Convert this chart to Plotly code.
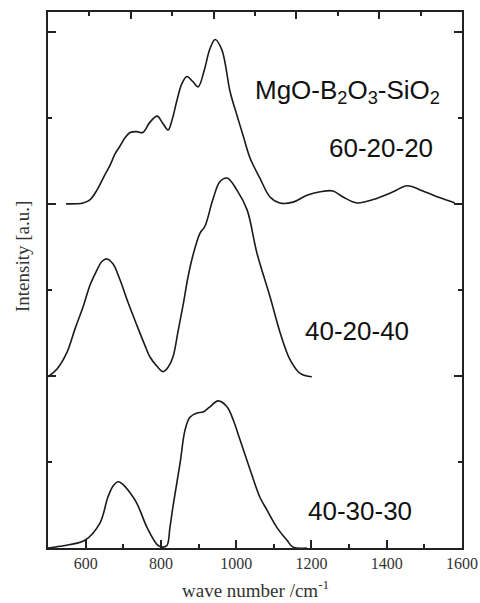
import plotly.graph_objects as go

# Spectrum 60-20-20 (offset baseline ~4)
wn_602020 = [548, 593, 612, 630, 649, 665, 678, 691, 705, 718, 736, 752, 771, 790, 803, 819, 830, 843,
             856, 869, 885, 899, 915, 930, 944, 962, 984, 1002, 1018, 1037, 1063, 1090, 1116, 1151,
             1188, 1223, 1257, 1284, 1321, 1364, 1417, 1454, 1496, 1542, 1581]
int_602020 = [4.00, 4.01, 4.05, 4.16, 4.32, 4.45, 4.58, 4.67, 4.77, 4.83, 4.84, 4.83, 4.95, 5.02, 4.95,
              4.86, 4.98, 5.21, 5.40, 5.48, 5.42, 5.36, 5.55, 5.80, 5.91, 5.79, 5.30, 5.03, 4.80, 4.53,
              4.30, 4.08, 4.01, 4.02, 4.10, 4.14, 4.15, 4.08, 4.01, 4.05, 4.14, 4.21, 4.15, 4.07, 4.01]

# Spectrum 40-20-40 (offset baseline ~2)
wn_402040 = [500, 524, 550, 572, 593, 612, 630, 643, 657, 673, 691, 713, 736, 758, 771, 790, 806, 819,
             832, 846, 860, 872, 885, 904, 917, 938, 957, 976, 1002, 1029, 1055, 1090, 1117, 1143,
             1170, 1201]
int_402040 = [1.99, 2.08, 2.27, 2.55, 2.80, 3.06, 3.23, 3.33, 3.36, 3.30, 3.12, 2.85, 2.59, 2.35, 2.22,
              2.11, 2.05, 2.10, 2.22, 2.53, 2.85, 3.15, 3.40, 3.66, 3.74, 4.05, 4.26, 4.30, 4.16, 3.93,
              3.43, 2.92, 2.50, 2.19, 2.03, 1.99]

# Spectrum 40-30-30 (baseline 0)
wn_403030 = [500, 532, 558, 598, 638, 659, 673, 686, 699, 713, 736, 763, 790, 803, 816, 824, 832, 851,
             864, 877, 896, 912, 930, 952, 976, 992, 1010, 1037, 1063, 1082, 1108, 1135, 1151, 1188]
int_403030 = [0.00, 0.02, 0.04, 0.09, 0.29, 0.59, 0.72, 0.77, 0.74, 0.67, 0.52, 0.24, 0.04, 0.01, 0.03,
              0.24, 0.48, 0.99, 1.37, 1.52, 1.57, 1.58, 1.64, 1.71, 1.64, 1.49, 1.26, 0.91, 0.59, 0.44,
              0.24, 0.09, 0.01, 0.00]

x_ticks = [600, 800, 1000, 1200, 1400, 1600]
x_tick_labels = ["600", "800", "1000", "1200", "1400", "1600"]

labels = ["MgO-B<sub>2</sub>O<sub>3</sub>-SiO<sub>2</sub>", "60-20-20", "40-20-40", "40-30-30"]
label_x = [1297, 1385, 1321, 1329]
label_y = [5.31, 4.65, 2.52, 0.43]

fig = go.Figure()
line = dict(color="#1a1a1a", width=1.6, shape="spline", smoothing=1.0)
for wx, iy in [(wn_602020, int_602020), (wn_402040, int_402040), (wn_403030, int_403030)]:
    fig.add_trace(go.Scatter(x=wx, y=iy, mode="lines", line=line, showlegend=False, hoverinfo="skip"))

# invisible trace to activate the top axis
fig.add_trace(go.Scatter(x=[0, 10], y=[None, None], xaxis="x2", mode="lines", showlegend=False,
                         hoverinfo="skip"))

axcol = "#222222"
tickfont = dict(family="Liberation Serif", size=16, color="#333333")
fig.update_layout(
    width=480, height=603,
    margin=dict(l=48, r=18, t=12, b=55),
    plot_bgcolor="white", paper_bgcolor="white",
    xaxis=dict(range=[500, 1600], showline=True, linecolor=axcol, linewidth=2, mirror=False,
               showgrid=False, zeroline=False, ticks="inside", ticklen=8, tickwidth=2, tickcolor=axcol,
               tickvals=x_ticks, ticktext=x_tick_labels, tickfont=tickfont, automargin=False,
               minor=dict(ticks="inside", ticklen=4, tickwidth=2, tickcolor=axcol, dtick=100, tick0=500)),
    xaxis2=dict(range=[0, 10], overlaying="x", side="top", anchor="y", showline=True, linecolor=axcol,
                linewidth=2, showgrid=False, zeroline=False, showticklabels=False, ticks="inside",
                ticklen=7, tickwidth=2, tickcolor=axcol, tick0=0, dtick=2, automargin=False,
                minor=dict(ticks="inside", ticklen=4, tickwidth=2, tickcolor=axcol, dtick=1)),
    yaxis=dict(range=[0, 6.23], showline=True, linecolor=axcol, linewidth=2, mirror="ticks",
               showgrid=False, zeroline=False, showticklabels=False, ticks="inside", ticklen=8,
               tickwidth=2, tickcolor=axcol, tick0=0, dtick=2, automargin=False,
               minor=dict(ticks="inside", ticklen=4, tickwidth=2, tickcolor=axcol, dtick=1)),
)

for t, lx, ly in zip(labels, label_x, label_y):
    fig.add_annotation(x=lx, y=ly, xref="x", yref="y", text=t, showarrow=False,
                       xanchor="center", yanchor="middle",
                       font=dict(family="Liberation Sans", size=26, color="#111111"))

fig.add_annotation(x=(22 - 48) / 414, y=(548 - 257) / 536, xref="paper", yref="paper",
                   text="Intensity [a.u.]", textangle=-90, showarrow=False,
                   xanchor="center", yanchor="middle",
                   font=dict(family="Liberation Serif", size=19, color="#333333"))
fig.add_annotation(x=0.5, y=-(589 - 548) / 536, xref="paper", yref="paper",
                   text="wave number /cm<sup>-1</sup>", showarrow=False,
                   xanchor="center", yanchor="middle",
                   font=dict(family="Liberation Serif", size=19, color="#333333"))

fig.write_html("out.html", config={"displayModeBar": False},
               post_script="document.body.style.margin='0';document.body.style.overflow='hidden';")
